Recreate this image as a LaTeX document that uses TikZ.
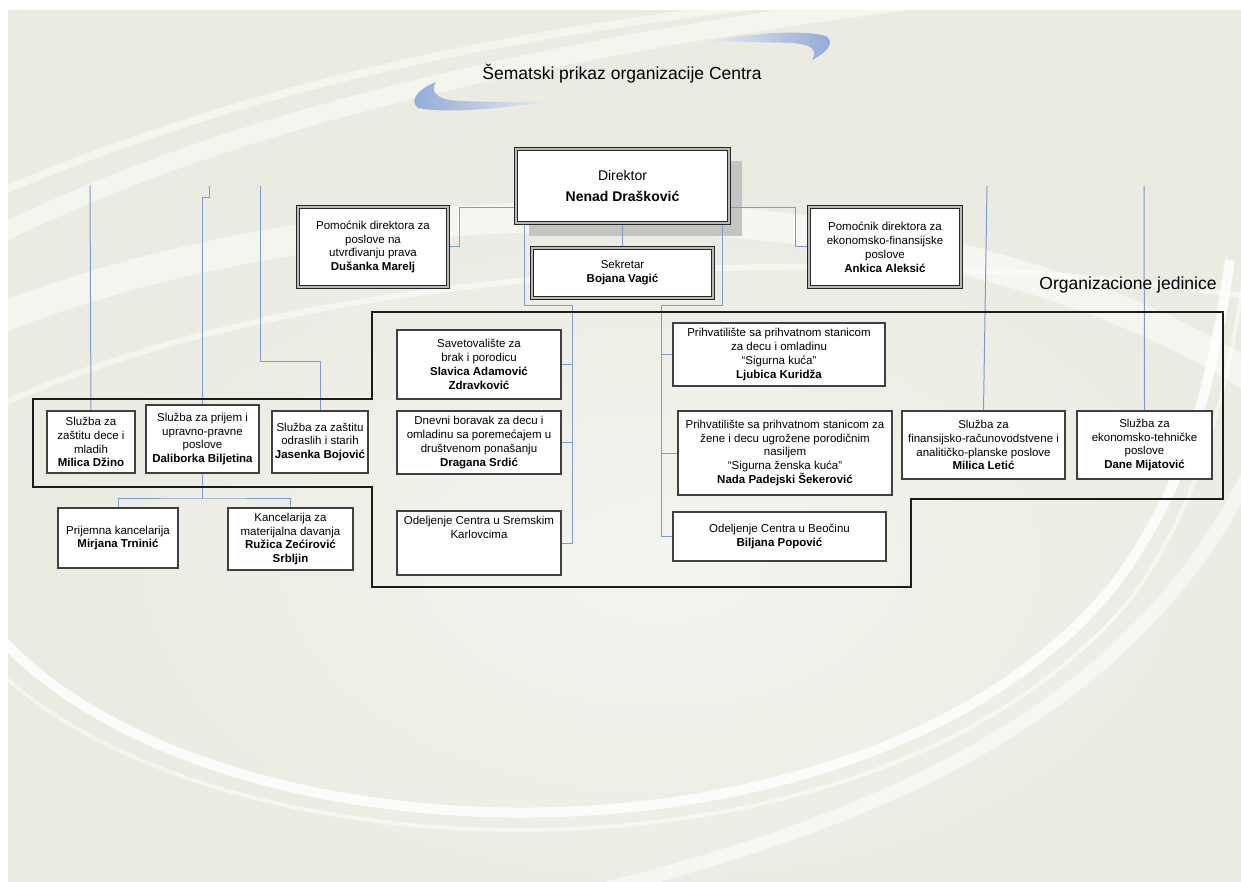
\documentclass[tikz,border=0pt]{standalone}
\usepackage{fontspec}
\setmainfont{Liberation Sans}

\definecolor{bgbeige}{HTML}{EBEBE2}
\definecolor{glowbeige}{HTML}{F4F4EF}
\definecolor{linkblue}{HTML}{7F9BCB}
\definecolor{swooshblue}{HTML}{8FA9D8}
\definecolor{swooshpale}{HTML}{E6EAF0}
\definecolor{frameblack}{HTML}{1C1C1C}
\definecolor{shadowgray}{HTML}{C4C4C2}

\pgfdeclarelayer{bg}
\pgfdeclarelayer{links}
\pgfsetlayers{bg,links,main}

\begin{document}
\begin{tikzpicture}[x=1pt,y=-1pt]
                \tikzset{unit/.style={draw=black!75, line width=1.2pt, fill=white, inner sep=0pt, align=center, font=\fontsize{11.5}{13.9}\selectfont}}
                \tikzset{headbox/.style={unit, draw=black!85, line width=1pt, double=gray!55, double distance=1.4pt}}
                \tikzset{link/.style={draw=linkblue, line width=1pt}}
                \tikzset{orgframe/.style={draw=frameblack, line width=2pt, line join=miter}}

                \useasboundingbox (0,0) rectangle (1241,882);

                \begin{pgfonlayer}{bg}
                \clip (0,0) rectangle (1241,882);
                \fill[white] (0,0) rectangle (1241,882);
                \fill[bgbeige] (8,10) rectangle (1241,882);
                \clip (8,10) rectangle (1241,882);
                \shade[inner color=glowbeige, outer color=bgbeige] (660,560) ellipse [x radius=620, y radius=380];
                \begin{scope}[white, opacity=.5]
                \draw[line width=8] (-30,205) .. controls (300,60) and (600,20) .. (900,-10);
                \draw[line width=18] (-30,250) .. controls (250,100) and (650,30) .. (1000,-10);
                \draw[line width=30] (-30,330) .. controls (350,170) and (950,170) .. (1270,390);
                \draw[line width=6] (-30,420) .. controls (300,250) and (900,240) .. (1270,300);
                \draw[line width=10, opacity=.8] (-30,600) .. controls (150,870) and (850,900) .. (1110,590) .. controls (1180,500) and (1210,400) .. (1230,260);
                \draw[line width=4] (-30,640) .. controls (160,880) and (860,920) .. (1130,600) .. controls (1195,510) and (1225,410) .. (1245,270);
                \draw[line width=14] (560,900) .. controls (900,820) and (1150,700) .. (1260,450);
                \end{scope}
                \shade[left color=swooshpale, right color=swooshblue] (708,41) .. controls (750,34) and (800,29) .. (826,36) .. controls (835,42) and (828,52) .. (812,60) .. controls (818,50) and (812,44) .. (790,43) .. controls (760,42) and (730,42) .. (708,41) -- cycle;
                \shade[left color=swooshblue, right color=swooshpale] (548,102) .. controls (500,108) and (450,114) .. (418,108) .. controls (408,100) and (420,88) .. (436,82) .. controls (430,92) and (436,100) .. (460,101) .. controls (490,102) and (520,102) .. (548,102) -- cycle;
                \fill[shadowgray] (529,161) rectangle (742,236);
                \end{pgfonlayer}

                \node[font=\fontsize{17.5}{20}\selectfont] (title) at (622,74) {Šematski prikaz organizacije Centra};
                \node[font=\fontsize{17.5}{20}\selectfont] (units) at (1128,285) {Organizacione jedinice};

                \coordinate (topA) at (90,186);
                \coordinate (topB) at (209,186);
                \coordinate (topC) at (260,186);
                \coordinate (topD) at (987,186);
                \coordinate (topE) at (1144,186);

                \path (622.5,186) node[headbox, minimum width=213, minimum height=74, font=\fontsize{14}{21}\selectfont] (dir) {Direktor\\\textbf{Nenad Drašković}};
                \path (373,247) node[headbox, minimum width=150, minimum height=80] (pleft) {Pomoćnik direktora za\\poslove na\\utvrđivanju prava\\\textbf{Dušanka Marelj}};
                \path (885,247) node[headbox, minimum width=152, minimum height=80] (pright) {Pomoćnik direktora za\\ekonomsko-finansijske\\poslove\\\textbf{Ankica Aleksić}};
                \path (622.5,273) node[headbox, minimum width=181, minimum height=50] (sek) {Sekretar\\\textbf{Bojana Vagić}};

                \path (91,442) node[unit, minimum width=88, minimum height=62] (dzino) {Služba za\\zaštitu dece i\\mladih\\\textbf{Milica Džino}};
                \path (202.5,439) node[unit, minimum width=113, minimum height=68] (biljetina) {Služba za prijem i\\upravno-pravne\\poslove\\\textbf{Daliborka Biljetina}};
                \path (320,442) node[unit, minimum width=96, minimum height=62] (bojovic) {Služba za zaštitu\\odraslih i starih\\\textbf{Jasenka Bojović}};
                \path (118,538) node[unit, minimum width=120, minimum height=60] (trninic) {Prijemna kancelarija\\\textbf{Mirjana Trninić}};
                \path (290.5,539) node[unit, minimum width=125, minimum height=62] (srbljin) {Kancelarija za\\materijalna davanja\\\textbf{Ružica Zećirović}\\\textbf{Srbljin}};

                \path (479,364.5) node[unit, minimum width=164, minimum height=69] (sav) {Savetovalište za\\brak i porodicu\\\textbf{Slavica Adamović}\\\textbf{Zdravković}};
                \path (479,442.5) node[unit, minimum width=164, minimum height=63] (dnevni) {Dnevni boravak za decu i\\omladinu sa poremećajem u\\društvenom ponašanju\\\textbf{Dragana Srdić}};
                \path (479,543) node[unit, minimum width=164, minimum height=64] (sremski) {Odeljenje Centra u Sremskim\\Karlovcima\\\strut\\\strut};

                \path (779,354.5) node[unit, minimum width=212, minimum height=63] (kuca) {Prihvatilište sa prihvatnom stanicom\\za decu i omladinu\\“Sigurna kuća”\\\textbf{Ljubica Kuridža}};
                \path (785,453) node[unit, minimum width=214, minimum height=84] (zenska) {Prihvatilište sa prihvatnom stanicom za\\žene i decu ugrožene porodičnim\\nasiljem\\“Sigurna ženska kuća”\\\textbf{Nada Padejski Šekerović}};
                \path (779.5,536.5) node[unit, minimum width=213, minimum height=49] (beocin) {Odeljenje Centra u Beočinu\\\textbf{Biljana Popović}};

                \path (983.5,445) node[unit, minimum width=163, minimum height=68] (letic) {Služba za\\finansijsko-računovodstvene i\\analitičko-planske poslove\\\textbf{Milica Letić}};
                \path (1144.5,445) node[unit, minimum width=135, minimum height=68] (mijatovic) {Služba za\\ekonomsko-tehničke\\poslove\\\textbf{Dane Mijatović}};

                \begin{pgfonlayer}{links}
                \draw[link] (dir.west |- 0,208) -| ([xshift=11]pleft.east) -- (pleft.east);
                \draw[link] (dir.east |- 0,208) -| ([xshift=-13]pright.west) -- (pright.west);
                \draw[link] (dir.south) -- (sek.north);

                \draw[link] (dir.south -| 524,0) |- (572,306) |- (sremski.east);
                \draw[link] (sav.east) -- (sav.east -| 572,0);
                \draw[link] (dnevni.east) -- (dnevni.east -| 572,0);
                \draw[link] (dir.south -| 722,0) |- (661,306) |- (beocin.west);
                \draw[link] (kuca.west -| 661,0) -- (kuca.west);
                \draw[link] (zenska.west -| 661,0) -- (zenska.west);

                \draw[link] (topA) -- (dzino.north);
                \draw[link] (topB) |- (biljetina.north |- 0,198) -- (biljetina.north);
                \draw[link] (topC) |- (bojovic.north |- 0,361) -- (bojovic.north);
                \draw[link] (topD) -- (letic.north);
                \draw[link] (topE) -- (mijatovic.north);

                \draw[link] (biljetina.south) -- (biljetina.south |- 0,498);
                \draw[link] (trninic.north) |- (biljetina.south |- 0,498) -| (srbljin.north);

                \draw[orgframe] (372,312) -- (1223,312) -- (1223,499) -- (911,499) -- (911,587) -- (372,587) -- (372,487) -- (33,487) -- (33,399) -- (372,399) -- cycle;
                \end{pgfonlayer}

\end{tikzpicture}
\end{document}
